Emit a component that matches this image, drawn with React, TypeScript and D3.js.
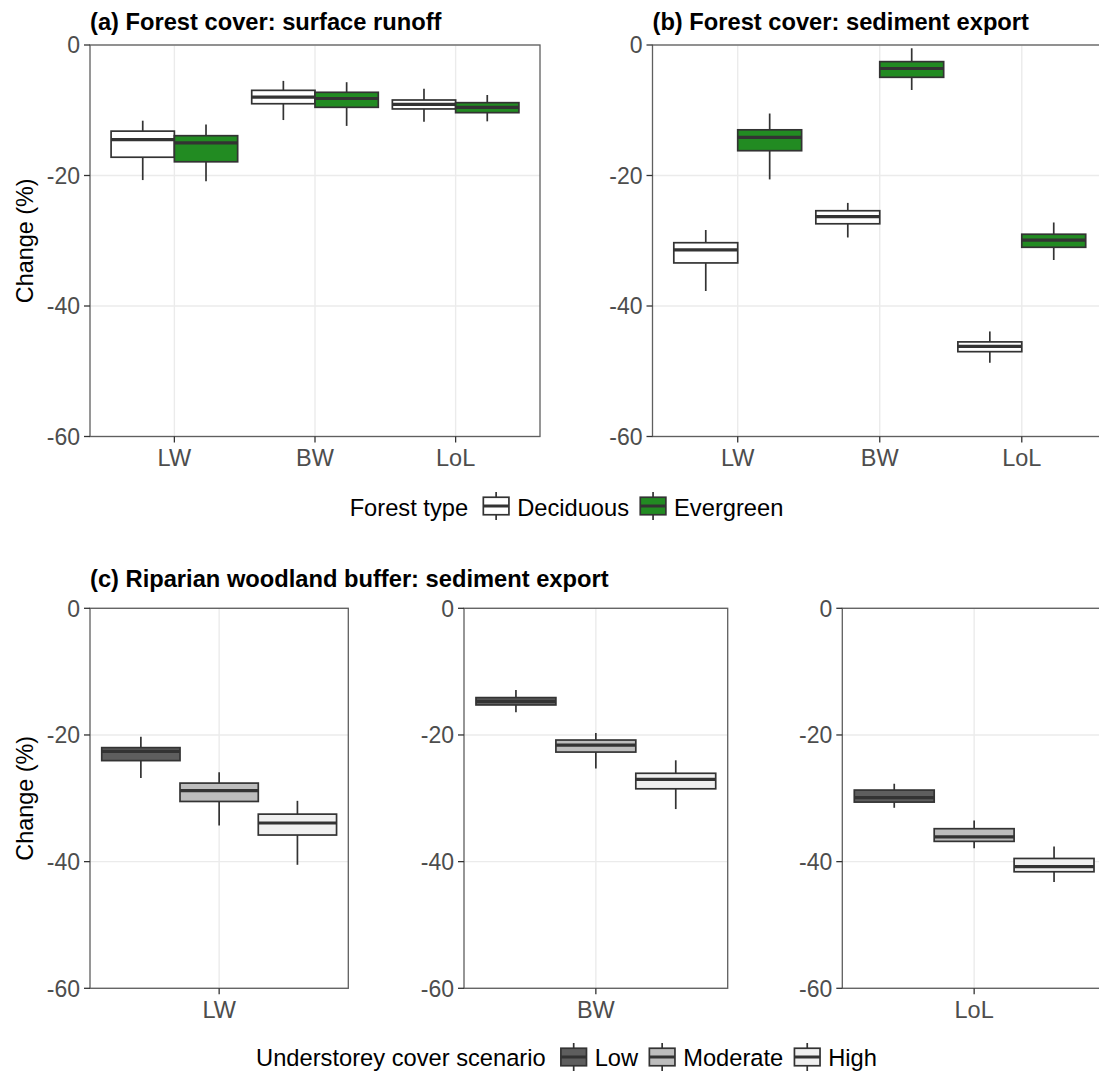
import React, { useEffect, useRef } from "react";
import * as d3 from "d3";

// ---------- data ----------
const sites = ["LW", "BW", "LoL"];
const forestTypes = ["Deciduous", "Evergreen"];
const forestFills = ["#FFFFFF", "#228B22"];
// each box: [lower whisker, Q1, median, Q3, upper whisker], one per site
const runoffDeciduous = [
  [-20.7, -17.2, -14.5, -13.2, -11.6],
  [-11.5, -9.0, -8.0, -6.95, -5.5],
  [-11.75, -9.8, -9.1, -8.43, -6.7],
];
const runoffEvergreen = [
  [-20.9, -17.9, -15.0, -13.9, -12.2],
  [-12.4, -9.55, -8.2, -7.25, -5.7],
  [-11.7, -10.37, -9.55, -8.84, -7.66],
];
const sedimentDeciduous = [
  [-37.7, -33.4, -31.4, -30.3, -28.35],
  [-29.5, -27.4, -26.3, -25.4, -24.2],
  [-48.7, -47.0, -46.2, -45.5, -43.9],
];
const sedimentEvergreen = [
  [-20.6, -16.2, -14.15, -13.0, -10.5],
  [-6.9, -4.95, -3.6, -2.55, -0.5],
  [-32.95, -31.0, -29.9, -29.0, -27.2],
];
const understoreyLevels = ["Low", "Moderate", "High"];
const understoreyFills = ["#5E5E5E", "#BDBDBD", "#F0F0F0"];
// one box per understorey level
const bufferLW = [
  [-26.8, -24.05, -22.6, -22.0, -20.3],
  [-34.3, -30.5, -28.8, -27.6, -25.9],
  [-40.5, -35.8, -33.9, -32.5, -30.4],
];
const bufferBW = [
  [-16.4, -15.26, -14.7, -14.1, -12.9],
  [-25.3, -22.7, -21.6, -20.8, -19.7],
  [-31.7, -28.5, -27.0, -26.05, -24.0],
];
const bufferLoL = [
  [-31.5, -30.6, -29.9, -28.7, -27.7],
  [-37.9, -36.8, -36.1, -34.8, -33.5],
  [-43.2, -41.6, -40.8, -39.5, -37.6],
];
const yTicks = [0, -20, -40, -60];
const yDomain = [-60, 0];

const FONT = "'Liberation Sans', Arial, Helvetica, sans-serif";
const W = 1099;
const H = 1072;

export default function App() {
  const ref = useRef<SVGSVGElement | null>(null);

  useEffect(() => {
    const svg = d3.select(ref.current);
    svg.selectAll("*").remove();
    svg.append("rect").attr("width", W).attr("height", H).attr("fill", "#fff");

    type Box = { x: number; w: number; vals: number[]; fill: string };

    function drawPanel(opts: {
      x0: number; x1: number; y0: number; y1: number;
      cats: string[]; boxes: Box[]; title?: string; yTitle?: boolean;
      y: d3.ScaleLinear<number, number>; xPos: (c: string) => number;
    }) {
      const { x0, x1, y0, y1, cats, boxes, y, xPos } = opts;
      const g = svg.append("g");
      // grid
      yTicks.forEach((t) => {
        g.append("line").attr("x1", x0).attr("x2", x1).attr("y1", y(t)).attr("y2", y(t))
          .attr("stroke", "#EBEBEB").attr("stroke-width", 1.4);
      });
      cats.forEach((c) => {
        g.append("line").attr("x1", xPos(c)).attr("x2", xPos(c)).attr("y1", y0).attr("y2", y1)
          .attr("stroke", "#EBEBEB").attr("stroke-width", 1.4);
      });
      // boxes
      boxes.forEach((b) => {
        const [lo, q1, med, q3, hi] = b.vals;
        const cx = b.x + b.w / 2;
        g.append("line").attr("x1", cx).attr("x2", cx).attr("y1", y(q3)).attr("y2", y(hi))
          .attr("stroke", "#333").attr("stroke-width", 1.7);
        g.append("line").attr("x1", cx).attr("x2", cx).attr("y1", y(q1)).attr("y2", y(lo))
          .attr("stroke", "#333").attr("stroke-width", 1.7);
        g.append("rect").attr("x", b.x).attr("y", y(q3)).attr("width", b.w)
          .attr("height", y(q1) - y(q3)).attr("fill", b.fill)
          .attr("stroke", "#333").attr("stroke-width", 1.7);
        g.append("line").attr("x1", b.x).attr("x2", b.x + b.w).attr("y1", y(med)).attr("y2", y(med))
          .attr("stroke", "#333").attr("stroke-width", 3.2);
      });
      // border
      g.append("rect").attr("x", x0).attr("y", y0).attr("width", x1 - x0).attr("height", y1 - y0)
        .attr("fill", "none").attr("stroke", "#5f5f5f").attr("stroke-width", 1.3);
      // y ticks
      yTicks.forEach((t) => {
        g.append("line").attr("x1", x0 - 6).attr("x2", x0).attr("y1", y(t)).attr("y2", y(t))
          .attr("stroke", "#333").attr("stroke-width", 1.3);
        g.append("text").attr("x", x0 - 10).attr("y", y(t)).attr("dy", "0.36em")
          .attr("text-anchor", "end").attr("font-family", FONT).attr("font-size", 23)
          .attr("fill", "#4D4D4D").text(String(t));
      });
      // x ticks
      cats.forEach((c) => {
        g.append("line").attr("x1", xPos(c)).attr("x2", xPos(c)).attr("y1", y1).attr("y2", y1 + 6)
          .attr("stroke", "#333").attr("stroke-width", 1.3);
        g.append("text").attr("x", xPos(c)).attr("y", y1 + 29.5)
          .attr("text-anchor", "middle").attr("font-family", FONT).attr("font-size", 23.5)
          .attr("fill", "#4D4D4D").text(c);
      });
      if (opts.title) {
        g.append("text").attr("x", x0).attr("y", y0 - 15).attr("font-family", FONT)
          .attr("font-size", 23.7).attr("font-weight", "bold").attr("fill", "#000").text(opts.title);
      }
      if (opts.yTitle) {
        g.append("text").attr("transform", `translate(33,${(y0 + y1) / 2}) rotate(-90)`)
          .attr("text-anchor", "middle").attr("font-family", FONT).attr("font-size", 23.4)
          .attr("fill", "#000").text("Change (%)");
      }
    }

    // ---------- top row ----------
    const yTop = d3.scaleLinear().domain(yDomain).range([436.5, 45]);
    const topPanels = [
      { x0: 90, x1: 540, title: "(a) Forest cover: surface runoff", data: [runoffDeciduous, runoffEvergreen], yTitle: true },
      { x0: 652.5, x1: 1107, title: "(b) Forest cover: sediment export", data: [sedimentDeciduous, sedimentEvergreen], yTitle: false },
    ];
    topPanels.forEach((p) => {
      const xs = d3.scalePoint<string>().domain(sites).range([p.x0, p.x1]).padding(0.6);
      const groupW = xs.step() * 0.9;
      const inner = d3.scaleBand<string>().domain(forestTypes).range([0, groupW]);
      const boxes: Box[] = [];
      sites.forEach((s, i) => {
        forestTypes.forEach((ft, j) => {
          boxes.push({
            x: (xs(s) as number) - groupW / 2 + (inner(ft) as number),
            w: inner.bandwidth(),
            vals: p.data[j][i],
            fill: forestFills[j],
          });
        });
      });
      drawPanel({ x0: p.x0, x1: p.x1, y0: 45, y1: 436.5, cats: sites, boxes, title: p.title,
        yTitle: p.yTitle, y: yTop, xPos: (c) => xs(c) as number });
    });

    // ---------- bottom row ----------
    const yBot = d3.scaleLinear().domain(yDomain).range([988.3, 608.3]);
    const botPanels = [
      { x0: 90, x1: 348.3, site: "LW", data: bufferLW, yTitle: true, title: "(c) Riparian woodland buffer: sediment export" },
      { x0: 464, x1: 727.7, site: "BW", data: bufferBW, yTitle: false, title: undefined },
      { x0: 842.3, x1: 1106, site: "LoL", data: bufferLoL, yTitle: false, title: undefined },
    ];
    botPanels.forEach((p) => {
      const xs = d3.scaleBand<string>().domain([p.site]).range([p.x0, p.x1]).paddingOuter(0.05).paddingInner(0);
      const inner = d3.scaleBand<string>().domain(understoreyLevels).range([0, xs.bandwidth()]);
      const boxes: Box[] = understoreyLevels.map((lv, j) => ({
        x: (xs(p.site) as number) + (inner(lv) as number),
        w: inner.bandwidth(),
        vals: p.data[j],
        fill: understoreyFills[j],
      }));
      drawPanel({ x0: p.x0, x1: p.x1, y0: 608.3, y1: 988.3, cats: [p.site], boxes,
        yTitle: p.yTitle, y: yBot, xPos: (c) => (xs(c) as number) + xs.bandwidth() / 2 });
      if (p.title) {
        svg.append("text").attr("x", p.x0).attr("y", 587).attr("font-family", FONT)
          .attr("font-size", 23.7).attr("font-weight", "bold").attr("fill", "#000").text(p.title);
      }
    });

    // ---------- legends ----------
    function legend(title: string, labels: string[], fills: string[], cx: number, keyCy: number, textBase: number) {
      const g = svg.append("g");
      const keyW = 32, keyH = 35;
      const fs = 23.7;
      const t = g.append("text").attr("y", textBase).attr("font-family", FONT).attr("font-size", fs)
        .attr("fill", "#000").text(title);
      const tW = (t.node() as SVGTextElement).getComputedTextLength();
      const items = labels.map((l) => {
        const tt = g.append("text").attr("y", textBase).attr("font-family", FONT).attr("font-size", fs)
          .attr("fill", "#000").text(l);
        return { node: tt, w: (tt.node() as SVGTextElement).getComputedTextLength() };
      });
      const gapTitle = 12, gapKey = 5, gapItem = 8;
      const total = tW + gapTitle + items.reduce((a, it) => a + keyW + gapKey + it.w, 0) + gapItem * (items.length - 1);
      let x = cx - total / 2;
      t.attr("x", x);
      x += tW + gapTitle;
      items.forEach((it, i) => {
        const ky = keyCy - keyH / 2;
        const kcx = x + keyW / 2;
        g.append("line").attr("x1", kcx).attr("x2", kcx).attr("y1", ky + keyH * 0.1).attr("y2", ky + keyH * 0.9)
          .attr("stroke", "#333").attr("stroke-width", 1.7);
        g.append("rect").attr("x", x + keyW * 0.1).attr("y", ky + keyH * 0.25).attr("width", keyW * 0.8)
          .attr("height", keyH * 0.5).attr("fill", fills[i]).attr("stroke", "#333").attr("stroke-width", 1.7);
        g.append("line").attr("x1", x + keyW * 0.1).attr("x2", x + keyW * 0.9).attr("y1", keyCy).attr("y2", keyCy)
          .attr("stroke", "#333").attr("stroke-width", 3);
        x += keyW + gapKey;
        it.node.attr("x", x);
        x += it.w + gapItem;
      });
    }
    legend("Forest type", forestTypes, forestFills, 566.5, 506, 516);
    legend("Understorey cover scenario", understoreyLevels, understoreyFills, 566.5, 1057, 1066);
  }, []);

  return (
    <svg
      ref={ref}
      width={W}
      height={H}
      style={{ position: "absolute", left: 0, top: 0, display: "block" }}
    />
  );
}
